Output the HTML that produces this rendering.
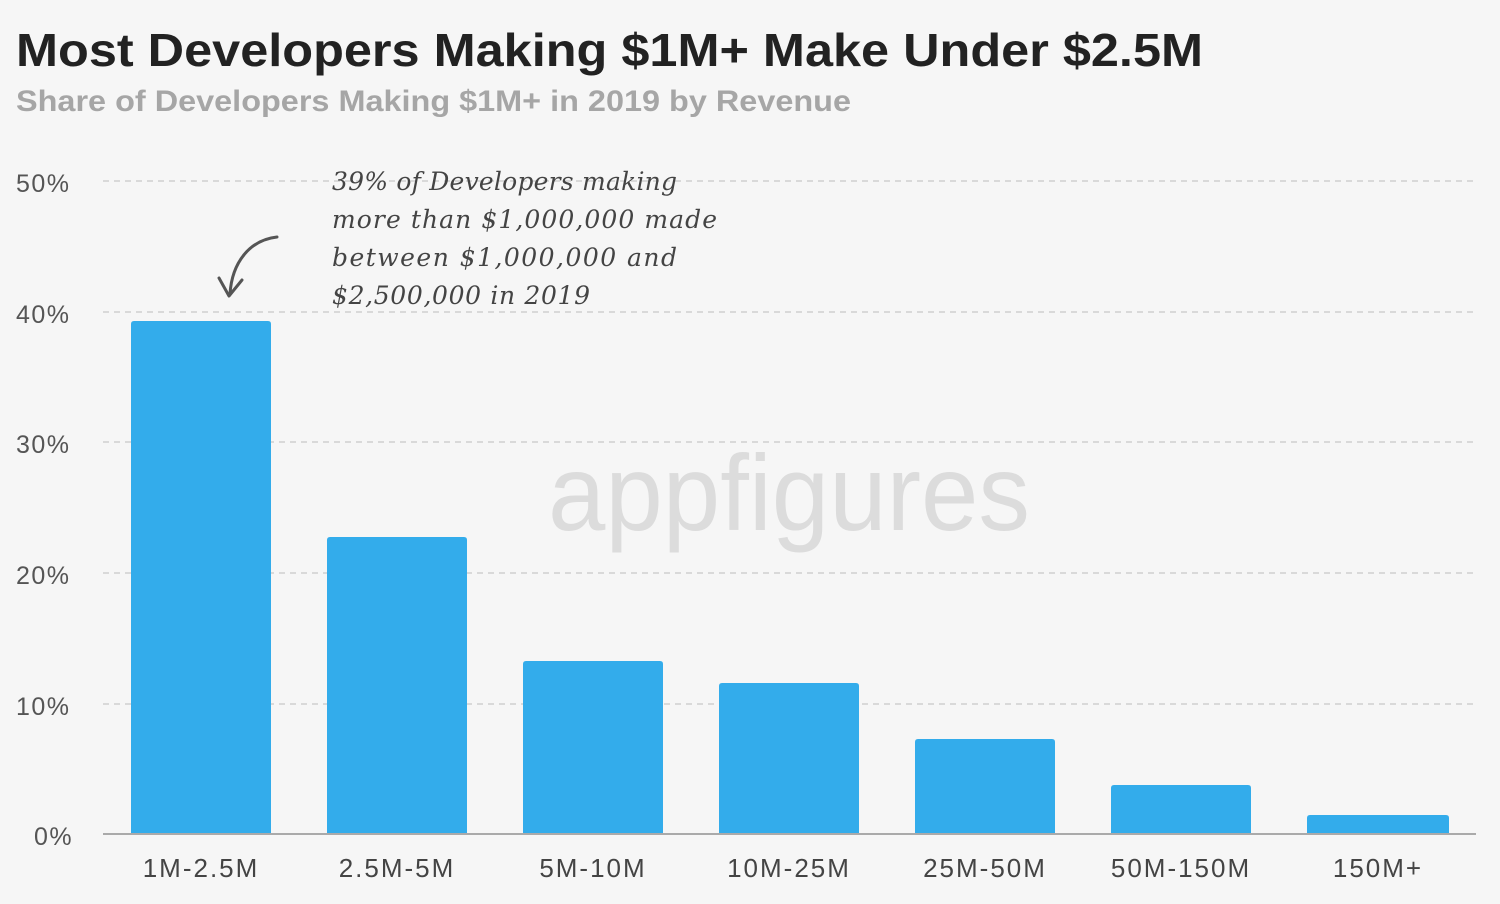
<!DOCTYPE html>
<html><head><meta charset="utf-8"><style>
body{margin:0;background:#f6f6f6;width:1500px;height:904px;overflow:hidden;font-family:"Liberation Sans",sans-serif}
</style></head><body>
<svg width="1500" height="904" xmlns="http://www.w3.org/2000/svg" style="position:absolute;left:0;top:0">
<rect width="1500" height="904" fill="#f6f6f6"/>
<text x="16" y="66" font-size="46" font-weight="bold" fill="#222" font-family="Liberation Sans" textLength="1187" lengthAdjust="spacingAndGlyphs">Most Developers Making $1M+ Make Under $2.5M</text>
<text x="16" y="111" font-size="30" font-weight="bold" fill="#a6a6a6" font-family="Liberation Sans" textLength="835" lengthAdjust="spacingAndGlyphs">Share of Developers Making $1M+ in 2019 by Revenue</text>
<g stroke="#cfcfcf" stroke-width="1.5" stroke-dasharray="6,5">
<line x1="103" y1="181" x2="1476" y2="181"/>
<line x1="103" y1="312" x2="1476" y2="312"/>
<line x1="103" y1="442" x2="1476" y2="442"/>
<line x1="103" y1="573" x2="1476" y2="573"/>
<line x1="103" y1="704" x2="1476" y2="704"/>
</g>
<g font-size="25" fill="#555" font-family="Liberation Sans" letter-spacing="1.5">
<text x="16" y="192">50%</text><text x="16" y="323">40%</text><text x="16" y="453">30%</text>
<text x="16" y="584">20%</text><text x="16" y="715">10%</text><text x="34" y="845">0%</text>
</g>
<text x="548" y="530" font-size="108" fill="#dcdcdc" font-family="Liberation Sans" textLength="482" lengthAdjust="spacingAndGlyphs">appfigures</text>
<g fill="#33aceb">
<path d="M131 834V324q0-3 3-3h134q3 0 3 3V834z"/>
<path d="M327 834V540q0-3 3-3h134q3 0 3 3V834z"/>
<path d="M523 834V664q0-3 3-3h134q3 0 3 3V834z"/>
<path d="M719 834V686q0-3 3-3h134q3 0 3 3V834z"/>
<path d="M915 834V742q0-3 3-3h134q3 0 3 3V834z"/>
<path d="M1111 834V788q0-3 3-3h134q3 0 3 3V834z"/>
<path d="M1307 834V818q0-3 3-3h136q3 0 3 3V834z"/>
</g>
<line x1="103" y1="834" x2="1476" y2="834" stroke="#aaa" stroke-width="2"/>
<g font-size="26" fill="#444" text-anchor="middle" font-family="Liberation Sans" letter-spacing="2">
<text x="201" y="877">1M-2.5M</text><text x="397" y="877">2.5M-5M</text><text x="593" y="877">5M-10M</text>
<text x="789" y="877">10M-25M</text><text x="985" y="877">25M-50M</text><text x="1181" y="877">50M-150M</text><text x="1378" y="877">150M+</text>
</g>
<g font-size="25" fill="#444" font-family="DejaVu Serif" font-style="italic">
<text x="332" y="190" textLength="345">39% of Developers making</text>
<text x="332" y="228" textLength="385">more than $1,000,000 made</text>
<text x="332" y="266" textLength="345">between $1,000,000 and</text>
<text x="332" y="304" textLength="258">$2,500,000 in 2019</text>
</g>
<path d="M277 237C250 240 232 262 230 294" stroke="#555" stroke-width="3" fill="none" stroke-linecap="round"/>
<path d="M219 278L229 296L242 280" stroke="#555" stroke-width="3" fill="none" stroke-linecap="round" stroke-linejoin="round"/>
</svg>
</body></html>
